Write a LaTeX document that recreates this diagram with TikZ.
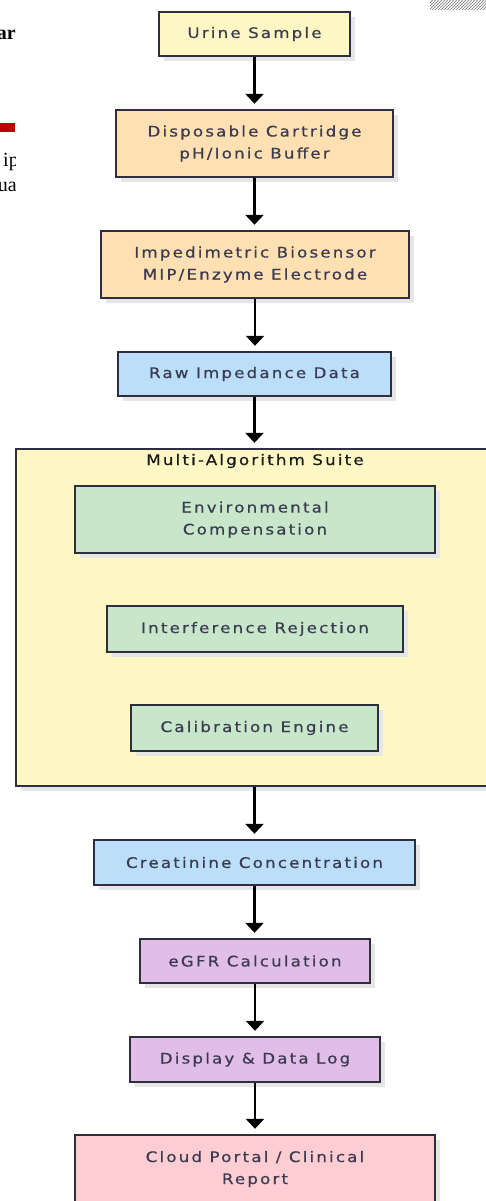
\documentclass[tikz,border=0pt]{standalone}
\usepackage{fontspec}
\usetikzlibrary{arrows.meta,shadows,patterns}
\newfontfamily\boxfont[LetterSpace=15,FakeStretch=1.15,FakeBold=0.5]{DejaVu Sans}
\newfontfamily\pagefont{Liberation Serif}
\definecolor{bord}{HTML}{2E2E3E}
\definecolor{txt}{HTML}{3A3A50}
\definecolor{cyel}{HTML}{FFF8C4}
\definecolor{corg}{HTML}{FFE0B2}
\definecolor{cblu}{HTML}{BBDEFB}
\definecolor{cgrn}{HTML}{C8E6C9}
\definecolor{cpur}{HTML}{E1BEE7}
\definecolor{cpnk}{HTML}{FFCDD2}
\definecolor{shad}{HTML}{E6E6E6}
\definecolor{pagered}{HTML}{C00000}
\begin{document}
\begin{tikzpicture}[x=1pt,y=-1pt,
  box/.style={draw=bord, line width=2.4pt, rectangle, inner sep=0pt, align=center,
    text=txt, font=\boxfont\fontsize{14.5}{22}\selectfont,
    drop shadow={shadow xshift=5pt, shadow yshift=-5pt, fill=shad, opacity=1}},
  arr/.style={-{Triangle[width=18pt,length=10pt]}, line width=2.6pt, black, shorten >=5pt},
  frag/.style={anchor=base east, inner sep=0pt, text=black}]
\useasboundingbox (0,0) rectangle (486,1201);
\clip (0,0) rectangle (486,1201);

% page fragments at the left edge
\begin{scope}
  \clip (0,0) rectangle (15,200);
  \node[frag, font=\pagefont\bfseries\fontsize{20}{24}\selectfont] (fa) at (16,40) {ar};
  \fill[pagered] (0,123) rectangle (15,132);
  \node[frag, font=\pagefont\fontsize{20}{24}\selectfont] (fb) at (19,167) {ip};
  \node[frag, font=\pagefont\fontsize{20}{24}\selectfont] (fc) at (17,192) {ua};
\end{scope}
% noise fragment top right
\begin{scope}
  \clip (430,0) rectangle (486,10);
  \fill[pattern=crosshatch dots, pattern color=black!70] (430,0) rectangle (486,10);
  \fill[pattern=north east lines, pattern color=black!45] (430,0) rectangle (486,10);
\end{scope}

\node[box, fill=cyel, minimum width=191pt, minimum height=44pt] (urine) at (254.5,34) {Urine Sample};
\node[box, fill=corg, minimum width=277pt, minimum height=67pt] (cart) at (254.5,143.5) {Disposable Cartridge\\pH/Ionic Buffer};
\node[box, fill=corg, minimum width=308pt, minimum height=67pt] (bio) at (255,264.5) {Impedimetric Biosensor\\MIP/Enzyme Electrode};
\node[box, fill=cblu, minimum width=273pt, minimum height=44pt] (raw) at (254.5,374) {Raw Impedance Data};

\node[box, fill=cyel, minimum width=484pt, minimum height=337pt] (suite) at (258,617.5) {};
\node[anchor=base, inner sep=0pt, text=black!90, font=\boxfont\fontsize{14.5}{22}\selectfont] (suitetitle) at (255,465) {Multi-Algorithm Suite};

\node[box, fill=cgrn, minimum width=360pt, minimum height=67pt] (env) at (255,519.5) {Environmental\\Compensation};
\node[box, fill=cgrn, minimum width=296pt, minimum height=46pt] (intf) at (255,629) {Interference Rejection};
\node[box, fill=cgrn, minimum width=247pt, minimum height=46pt] (cal) at (254.5,728) {Calibration Engine};

\node[box, fill=cblu, minimum width=321pt, minimum height=45pt] (creat) at (254.5,862.5) {Creatinine Concentration};
\node[box, fill=cpur, minimum width=230pt, minimum height=44pt] (egfr) at (255,961) {eGFR Calculation};
\node[box, fill=cpur, minimum width=250pt, minimum height=45pt] (disp) at (255,1059.5) {Display \& Data Log};
\node[box, fill=cpnk, minimum width=360pt, minimum height=68pt] (cloud) at (255,1169) {Cloud Portal / Clinical\\Report};

\draw[arr] (urine.south) -- (cart.north);
\draw[arr] (cart.south) -- (cart.south |- bio.north);
\draw[arr] (bio.south) -- (bio.south |- raw.north);
\draw[arr] (raw.south) -- (raw.south |- suite.north);
\draw[arr] (creat.north |- suite.south) -- (creat.north);
\draw[arr] (creat.south) -- (creat.south |- egfr.north);
\draw[arr] (egfr.south) -- (disp.north);
\draw[arr] (disp.south) -- (disp.south |- cloud.north);
\end{tikzpicture}
\end{document}
